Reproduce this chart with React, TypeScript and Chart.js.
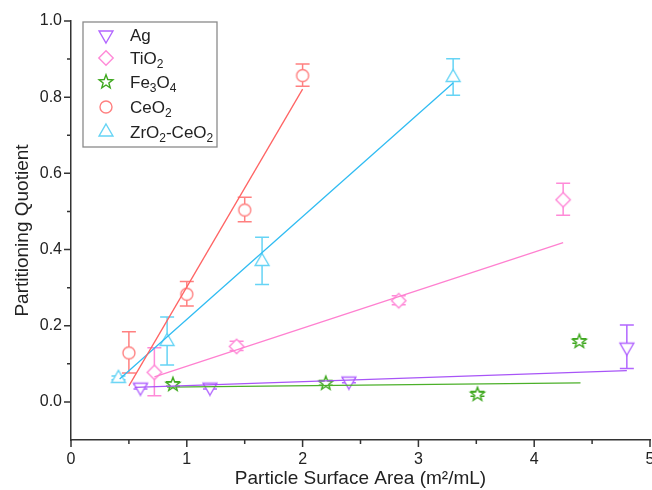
import React, { useEffect, useRef } from "react";
import { Chart, registerables } from "chart.js";

Chart.register(...registerables);

// ---------- data ----------
const seriesNames = ["Ag", "TiO2", "Fe3O4", "CeO2", "ZrO2-CeO2"];

const agX = [0.6, 1.2, 2.4, 4.8];
const agY = [0.04, 0.04, 0.056, 0.145];
const agErr = [0.006, 0.006, 0.006, 0.057];

const tio2X = [0.72, 1.43, 2.83, 4.25];
const tio2Y = [0.079, 0.147, 0.267, 0.532];
const tio2Err = [0.063, 0.012, 0.012, 0.042];

const fe3o4X = [0.88, 2.2, 3.51, 4.39];
const fe3o4Y = [0.047, 0.05, 0.021, 0.16];
const fe3o4Err = [0.006, 0.006, 0.006, 0.006];

const ceo2X = [0.5, 1.0, 1.5, 2.0];
const ceo2Y = [0.13, 0.284, 0.505, 0.858];
const ceo2Err = [0.054, 0.032, 0.032, 0.029];

const zrX = [0.41, 0.83, 1.65, 3.3];
const zrY = [0.063, 0.16, 0.37, 0.853];
const zrErr = [0.005, 0.063, 0.062, 0.048];

// linear fits (end points)
const agFitX = [0.55, 4.8];
const agFitY = [0.038, 0.082];
const tio2FitX = [0.72, 4.25];
const tio2FitY = [0.066, 0.418];
const fe3o4FitX = [0.83, 4.4];
const fe3o4FitY = [0.039, 0.05];
const ceo2FitX = [0.5, 2.0];
const ceo2FitY = [0.042, 0.821];
const zrFitX = [0.42, 3.3];
const zrFitY = [0.06, 0.837];

const xTicks = [0, 1, 2, 3, 4, 5];
const xMinor = [0.5, 1.5, 2.5, 3.5, 4.5];
const yTicks = [0, 0.2, 0.4, 0.6, 0.8, 1.0];
const yMinor = [0.1, 0.3, 0.5, 0.7, 0.9];

const xTitle = "Particle Surface Area (m\u00B2/mL)";
const yTitle = "Partitioning Quotient";

// ---------- styles ----------
const FONT = "'Liberation Sans', Arial, sans-serif";
const markerColors = ["#b266ff", "#ff8ad8", "#3fa81f", "#ff8080", "#66d4f5"];
const lineColors = ["#a855f7", "#ff80d0", "#4cb02a", "#ff6464", "#30bcf2"];
const markerKinds = ["triDown", "diamond", "star", "circle", "triUp"];

function pathMarker(ctx: CanvasRenderingContext2D, kind: string, x: number, y: number) {
  ctx.beginPath();
  if (kind === "triDown" || kind === "triUp") {
    const r = 8;
    const s = kind === "triDown" ? -1 : 1;
    ctx.moveTo(x, y - s * r);
    ctx.lineTo(x + r * Math.cos(Math.PI / 6), y + s * r / 2);
    ctx.lineTo(x - r * Math.cos(Math.PI / 6), y + s * r / 2);
    ctx.closePath();
  } else if (kind === "diamond") {
    const r = 7.2;
    ctx.moveTo(x, y - r);
    ctx.lineTo(x + r, y);
    ctx.lineTo(x, y + r);
    ctx.lineTo(x - r, y);
    ctx.closePath();
  } else if (kind === "circle") {
    ctx.arc(x, y, 6, 0, Math.PI * 2);
  } else if (kind === "star") {
    const R = 7.2, r0 = 3.0;
    for (let i = 0; i < 10; i++) {
      const a = -Math.PI / 2 + (i * Math.PI) / 5;
      const rr = i % 2 === 0 ? R : r0;
      const px = x + rr * Math.cos(a);
      const py = y + rr * Math.sin(a);
      if (i === 0) ctx.moveTo(px, py);
      else ctx.lineTo(px, py);
    }
    ctx.closePath();
  }
}

function makeMarkerCanvas(kind: string, color: string) {
  const c = document.createElement("canvas");
  c.width = 20;
  c.height = 20;
  const ctx = c.getContext("2d")!;
  pathMarker(ctx, kind, 10, 10.5);
  ctx.fillStyle = "#ffffff";
  ctx.fill();
  ctx.strokeStyle = color;
  ctx.lineWidth = 1.4;
  ctx.stroke();
  return c;
}

const markerSeries = [
  { xs: agX, ys: agY, errs: agErr },
  { xs: tio2X, ys: tio2Y, errs: tio2Err },
  { xs: fe3o4X, ys: fe3o4Y, errs: fe3o4Err },
  { xs: ceo2X, ys: ceo2Y, errs: ceo2Err },
  { xs: zrX, ys: zrY, errs: zrErr },
];
const fitSeries = [
  { xs: agFitX, ys: agFitY },
  { xs: tio2FitX, ys: tio2FitY },
  { xs: fe3o4FitX, ys: fe3o4FitY },
  { xs: ceo2FitX, ys: ceo2FitY },
  { xs: zrFitX, ys: zrFitY },
];

const errorBarPlugin = {
  id: "errorBars",
  beforeDatasetsDraw(chart: any) {
    const { ctx, scales } = chart;
    const x = scales.x, y = scales.y;
    ctx.save();
    ctx.lineWidth = 1.5;
    markerSeries.forEach((s, si) => {
      ctx.strokeStyle = markerColors[si];
      s.xs.forEach((xv, i) => {
        const px = x.getPixelForValue(xv);
        const top = y.getPixelForValue(s.ys[i] + s.errs[i]);
        const bot = y.getPixelForValue(s.ys[i] - s.errs[i]);
        ctx.beginPath();
        ctx.moveTo(px, top);
        ctx.lineTo(px, bot);
        ctx.moveTo(px - 7, top);
        ctx.lineTo(px + 7, top);
        ctx.moveTo(px - 7, bot);
        ctx.lineTo(px + 7, bot);
        ctx.stroke();
      });
    });
    ctx.restore();
  },
};

const axisTickPlugin = {
  id: "axisTicks",
  afterDraw(chart: any) {
    const { ctx, scales, chartArea } = chart;
    const x = scales.x, y = scales.y;
    ctx.save();
    ctx.strokeStyle = "#333";
    ctx.lineWidth = 1.5;
    ctx.beginPath();
    xTicks.forEach((v) => {
      const px = x.getPixelForValue(v);
      ctx.moveTo(px, chartArea.bottom);
      ctx.lineTo(px, chartArea.bottom + 7);
    });
    xMinor.forEach((v) => {
      const px = x.getPixelForValue(v);
      ctx.moveTo(px, chartArea.bottom);
      ctx.lineTo(px, chartArea.bottom + 4);
    });
    yTicks.forEach((v) => {
      const py = y.getPixelForValue(v);
      ctx.moveTo(chartArea.left, py);
      ctx.lineTo(chartArea.left - 7, py);
    });
    yMinor.forEach((v) => {
      const py = y.getPixelForValue(v);
      ctx.moveTo(chartArea.left, py);
      ctx.lineTo(chartArea.left - 4, py);
    });
    ctx.stroke();
    ctx.restore();
  },
};

const legendPlugin = {
  id: "customLegend",
  afterDraw(chart: any) {
    const ctx: CanvasRenderingContext2D = chart.ctx;
    const bx = 83, by = 22, bw = 134, bh = 125;
    ctx.save();
    ctx.fillStyle = "#ffffff";
    ctx.fillRect(bx, by, bw, bh);
    ctx.strokeStyle = "#8a8a8a";
    ctx.lineWidth = 1.3;
    ctx.strokeRect(bx, by, bw, bh);
    const rowY = [35, 58, 82, 107, 132];
    seriesNames.forEach((name, i) => {
      const cy = rowY[i];
      pathMarker(ctx, markerKinds[i], 106, cy);
      ctx.fillStyle = "#fff";
      ctx.fill();
      ctx.strokeStyle = markerColors[i];
      ctx.lineWidth = 1.4;
      ctx.stroke();
      // text with subscripted digits
      let tx = 130;
      ctx.fillStyle = "#222";
      ctx.textBaseline = "alphabetic";
      const parts = name.match(/\d+|\D+/g) || [];
      parts.forEach((p) => {
        if (/^\d+$/.test(p)) {
          ctx.font = `12px ${FONT}`;
          ctx.fillText(p, tx, cy + 10);
          tx += ctx.measureText(p).width;
        } else {
          ctx.font = `17px ${FONT}`;
          ctx.fillText(p, tx, cy + 6);
          tx += ctx.measureText(p).width;
        }
      });
    });
    ctx.restore();
  },
};

export default function App() {
  const canvasRef = useRef<HTMLCanvasElement | null>(null);

  useEffect(() => {
    const canvas = canvasRef.current;
    if (!canvas) return;

    const datasets: any[] = [];
    fitSeries.forEach((s, i) => {
      datasets.push({
        label: seriesNames[i] + " fit",
        data: s.xs.map((xv, k) => ({ x: xv, y: s.ys[k] })),
        showLine: true,
        borderColor: lineColors[i],
        borderWidth: 1.3,
        pointRadius: 0,
        fill: false,
        order: 0,
      });
    });
    markerSeries.forEach((s, i) => {
      const img = makeMarkerCanvas(markerKinds[i], markerColors[i]);
      datasets.push({
        label: seriesNames[i],
        data: s.xs.map((xv, k) => ({ x: xv, y: s.ys[k] })),
        showLine: false,
        pointStyle: img,
        pointRadius: 8,
        borderColor: markerColors[i],
        backgroundColor: "#fff",
        order: 1,
      });
    });

    const chart = new Chart(canvas, {
      type: "scatter",
      data: { datasets },
      options: {
        animation: false,
        responsive: false,
        devicePixelRatio: 1,
        layout: { autoPadding: false, padding: { top: 21, right: 2, left: 0, bottom: 0 } },
        plugins: {
          legend: { display: false },
          tooltip: { enabled: false },
        },
        scales: {
          x: {
            type: "linear",
            min: 0,
            max: 5,
            grid: { display: false, drawTicks: true, tickLength: 7 },
            border: { display: true, color: "#333", width: 1.5 },
            ticks: {
              padding: 3,
              color: "#222",
              font: { family: FONT, size: 16 },
              maxRotation: 0,
              callback: (v: any) => String(v),
            },
            title: {
              display: true,
              text: xTitle,
              color: "#222",
              font: { family: FONT, size: 19 },
              padding: { top: 0, bottom: 0 },
            },
            afterBuildTicks: (scale: any) => {
              scale.ticks = xTicks.map((v) => ({ value: v }));
            },
            afterFit: (scale: any) => {
              scale.height = 50;
              scale.paddingLeft = 0;
              scale.paddingRight = 0;
            },
          },
          y: {
            type: "linear",
            min: -0.1,
            max: 1.0,
            grid: { display: false, drawTicks: true, tickLength: 7 },
            border: { display: true, color: "#333", width: 1.5 },
            ticks: {
              padding: 2,
              color: "#222",
              font: { family: FONT, size: 16 },
              callback: (v: any) => Number(v).toFixed(1),
            },
            title: {
              display: true,
              text: yTitle,
              color: "#222",
              font: { family: FONT, size: 19 },
              padding: { top: 11, bottom: 0 },
            },
            afterBuildTicks: (scale: any) => {
              scale.ticks = yTicks.map((v) => ({ value: v }));
            },
            afterFit: (scale: any) => {
              scale.width = 71;
              scale.paddingTop = 0;
              scale.paddingBottom = 0;
            },
          },
        },
      },
      plugins: [errorBarPlugin, axisTickPlugin, legendPlugin],
    });

    return () => {
      chart.destroy();
    };
  }, []);

  return (
    <div style={{ position: "absolute", left: 0, top: 0, width: 652, height: 490, background: "#fff" }}>
      <canvas ref={canvasRef} width={652} height={490} />
    </div>
  );
}
